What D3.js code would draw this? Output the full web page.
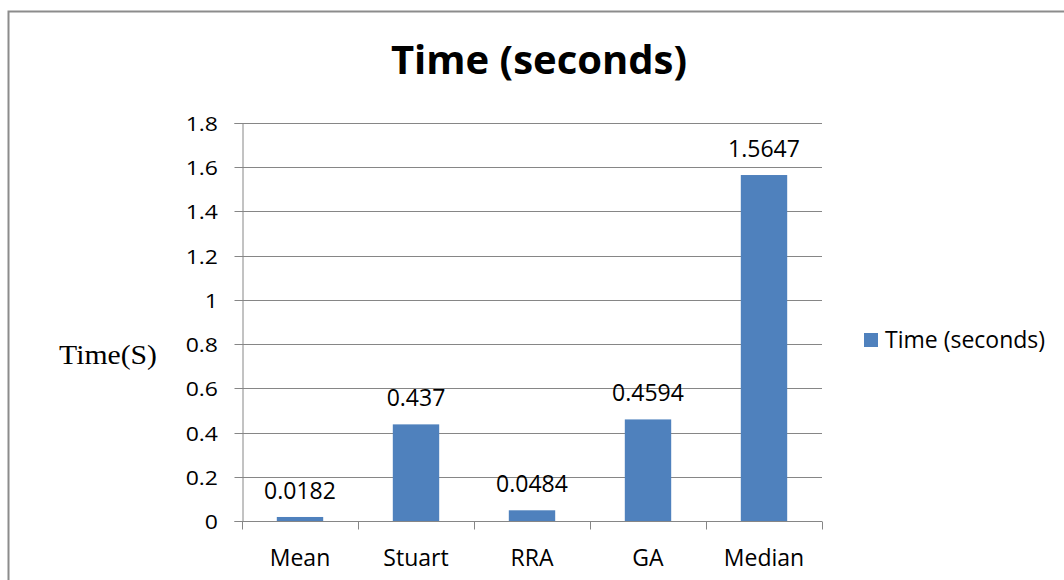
<!DOCTYPE html>
<html>
<head>
<meta charset="utf-8">
<script src="https://cdn.jsdelivr.net/npm/d3@7"></script>
<style>
  html, body { margin: 0; padding: 0; background: #fff; }
  svg { display: block; }
  text { font-family: "Open Sans", "Noto Sans", sans-serif; fill: #000; }
</style>
</head>
<body>
<svg id="chart" width="1064" height="580"></svg>
<script>
// Timing results per method
const categories = ["Mean", "Stuart", "RRA", "GA", "Median"];
const timeSeconds = [0.0182, 0.437, 0.0484, 0.4594, 1.5647];
const valueLabels = ["0.0182", "0.437", "0.0484", "0.4594", "1.5647"];
const yTicks = [0, 0.2, 0.4, 0.6, 0.8, 1, 1.2, 1.4, 1.6, 1.8];
const seriesName = "Time (seconds)";

const svg = d3.select("#chart");
const barColor = "#4f81bd";
const axisColor = "#868686";

// Outer frame
svg.append("rect")
  .attr("x", 8.5).attr("y", 11.5)
  .attr("width", 1070).attr("height", 600)
  .attr("fill", "none").attr("stroke", "#8c8c8c").attr("stroke-width", 2);

const plot = { left: 242, right: 822, top: 123, bottom: 521 };

const x = d3.scaleBand().domain(categories)
  .range([plot.left, plot.right]).paddingInner(0.6).paddingOuter(0.3);
const xCat = d3.scaleBand().domain(categories).range([plot.left, plot.right]);
const y = d3.scaleLinear().domain([0, 1.8]).range([plot.bottom, plot.top]);
const py = v => Math.round(y(v)) + 0.5;

// Horizontal gridlines
svg.append("g").selectAll("line").data(yTicks.filter(d => d > 0)).join("line")
  .attr("x1", plot.left).attr("x2", plot.right)
  .attr("y1", py).attr("y2", py)
  .attr("stroke", axisColor).attr("stroke-width", 1);

// Y axis (line and ticks from d3.axisLeft, labels placed with a slight horizontal stretch)
const yAxis = d3.axisLeft(y).tickValues(yTicks).tickSize(8).tickFormat("");
const gy = svg.append("g").attr("transform", `translate(${plot.left + 0.5},0)`).call(yAxis);
gy.select(".domain").attr("stroke", axisColor);
gy.selectAll(".tick line").attr("stroke", axisColor);
gy.selectAll(".tick").attr("transform", d => `translate(0,${py(d)})`);
const tickStretch = 1.15;
svg.append("g").selectAll("text").data(yTicks).join("text")
  .attr("transform", d => `translate(218,${py(d) + 7}) scale(${tickStretch},1)`)
  .attr("text-anchor", "end").attr("font-size", 20)
  .text(d => String(d));

// X axis with category boundary ticks
const gx = svg.append("g").attr("transform", `translate(0,${plot.bottom + 0.5})`);
gx.append("line").attr("x1", plot.left).attr("x2", plot.right)
  .attr("stroke", axisColor);
const bounds = categories.map(c => xCat(c)).concat([plot.right]);
gx.selectAll("line.bound").data(bounds).join("line").attr("class", "bound")
  .attr("x1", d => Math.round(d) + 0.5).attr("x2", d => Math.round(d) + 0.5)
  .attr("y1", 0).attr("y2", 8).attr("stroke", axisColor);
gx.selectAll("text").data(categories).join("text")
  .attr("x", d => xCat(d) + xCat.bandwidth() / 2).attr("y", 44)
  .attr("text-anchor", "middle").attr("font-size", 23).text(d => d);

// Bars
svg.append("g").selectAll("rect").data(timeSeconds).join("rect")
  .attr("x", (d, i) => x(categories[i]))
  .attr("width", x.bandwidth())
  .attr("y", d => y(d))
  .attr("height", d => y(0) - y(d))
  .attr("fill", barColor);

// Value labels
svg.append("g").selectAll("text").data(timeSeconds).join("text")
  .attr("x", (d, i) => xCat(categories[i]) + xCat.bandwidth() / 2)
  .attr("y", d => y(d) - 18)
  .attr("text-anchor", "middle").attr("font-size", 23)
  .text((d, i) => valueLabels[i]);

// Title
svg.append("text").attr("x", 539).attr("y", 74)
  .attr("text-anchor", "middle").attr("font-size", 40).attr("font-weight", "bold")
  .text(seriesName);

// Y axis title
svg.append("text")
  .attr("transform", "translate(108,364) scale(1.1,1)")
  .attr("text-anchor", "middle").attr("font-size", 27)
  .style("font-family", "'Liberation Serif', 'Times New Roman', serif")
  .text("Time(S)");

// Legend
const legend = svg.append("g").attr("transform", "translate(864,333)");
legend.append("rect").attr("width", 14).attr("height", 14).attr("fill", barColor);
legend.append("text").attr("x", 21).attr("y", 15).attr("font-size", 23).text(seriesName);
</script>
</body>
</html>
